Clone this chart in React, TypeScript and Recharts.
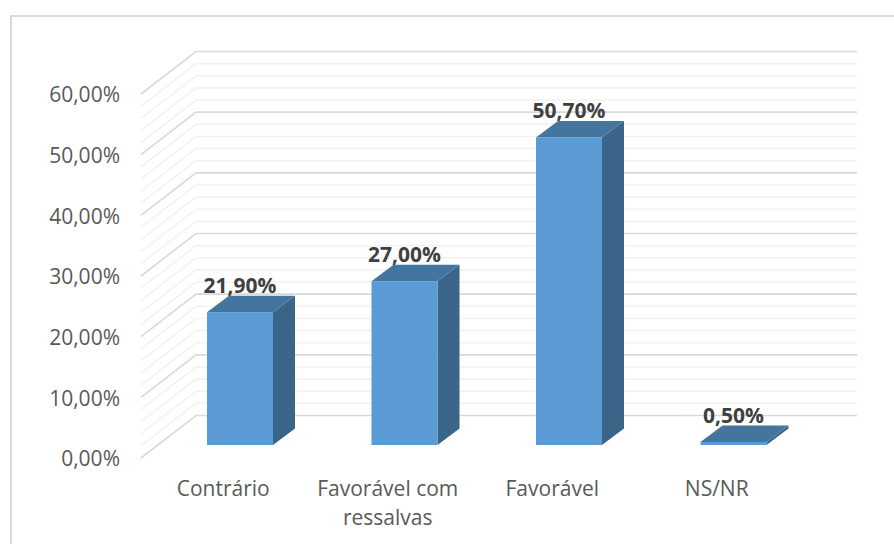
import React from 'react';
import { BarChart, Bar, XAxis, YAxis, ReferenceLine, LabelList, Text } from 'recharts';

const categories = ['Contrário', 'Favorável com ressalvas', 'Favorável', 'NS/NR'];
const percentages = [21.9, 27.0, 50.7, 0.5];
const yTicks = [0, 10, 20, 30, 40, 50, 60];
const gridValues = [0, 2, 4, 6, 8, 10, 12, 14, 16, 18, 20, 22, 24, 26, 28, 30, 32, 34, 36, 38, 40, 42, 44, 46, 48, 50, 52, 54, 56, 58, 60];

const data = categories.map((name, i) => ({ name, value: percentages[i] }));

const FONT = '"Open Sans", sans-serif';
const formatPct = (v: number) => `${v.toFixed(2).replace('.', ',')}%`;

// 3D look: floor goes back from the front edge through the bar plane to the wall
function GridLine(props: any) {
  const { x1, x2, y1, major } = props;
  return (
    <path
      d={`M${x1 - 17},${y1 + 13} L${x1 + 38},${y1 - 29.5} L${x2 + 41},${y1 - 29.5}`}
      fill="none"
      stroke={major ? '#d9d9d9' : '#f2f2f2'}
      strokeWidth={1.6}
    />
  );
}

function Bar3D(props: any) {
  const { x, y, width, height } = props;
  const dx = 22;
  const dy = 16.5;
  return (
    <g>
      <path d={`M${x + width},${y} l${dx},${-dy} v${height} l${-dx},${dy} Z`} fill="#3a6488" />
      <path d={`M${x},${y} l${dx},${-dy} h${width} l${-dx},${dy} Z`} fill="#44759f" />
      <rect x={x} y={y} width={width} height={height} fill="#5b9bd5" />
    </g>
  );
}

function CategoryTick(props: any) {
  const { x, y, payload } = props;
  return (
    <Text
      x={x - 17}
      y={y}
      width={150}
      textAnchor="middle"
      verticalAnchor="start"
      lineHeight={29}
      fontFamily={FONT}
      fontSize={21}
      fill="#595959"
    >
      {payload.value}
    </Text>
  );
}

export default function App() {
  return (
    <div style={{ position: 'absolute', left: 0, top: 0, width: 894, height: 544, background: '#fff', overflow: 'hidden' }}>
      <div
        style={{
          position: 'absolute',
          left: 10,
          top: 15,
          width: 884,
          height: 529,
          boxSizing: 'border-box',
          borderLeft: '2px solid #d9d9d9',
          borderTop: '2px solid #d9d9d9',
        }}
      />
      <BarChart
        width={894}
        height={544}
        data={data}
        margin={{ top: 81, right: 78, bottom: 0, left: 0 }}
        style={{ position: 'absolute', left: 0, top: 0 }}
      >
        <XAxis
          dataKey="name"
          axisLine={false}
          tickLine={false}
          interval={0}
          height={99}
          tickMargin={30}
          tick={(p: any) => <CategoryTick {...p} />}
        />
        <YAxis
          domain={[0, 60]}
          ticks={yTicks}
          width={158}
          axisLine={false}
          tickLine={false}
          tickSize={0}
          tickMargin={38}
          tickFormatter={formatPct}
          tick={{ dy: 14, fill: '#595959', fontFamily: FONT, fontSize: 21 }}
        />
        {gridValues.map((v) => (
          <ReferenceLine
            key={v}
            y={v}
            zIndex={-100}
            ifOverflow="visible"
            shape={(p: any) => <GridLine {...p} major={v % 10 === 0} />}
          />
        ))}
        <Bar dataKey="value" barSize={66} shape={(p: any) => <Bar3D {...p} />} isAnimationActive={false}>
          <LabelList
            dataKey="value"
            position="top"
            offset={19}
            formatter={formatPct}
            fill="#404040"
            fontFamily={FONT}
            fontSize={21}
            fontWeight={700}
          />
        </Bar>
      </BarChart>
    </div>
  );
}
